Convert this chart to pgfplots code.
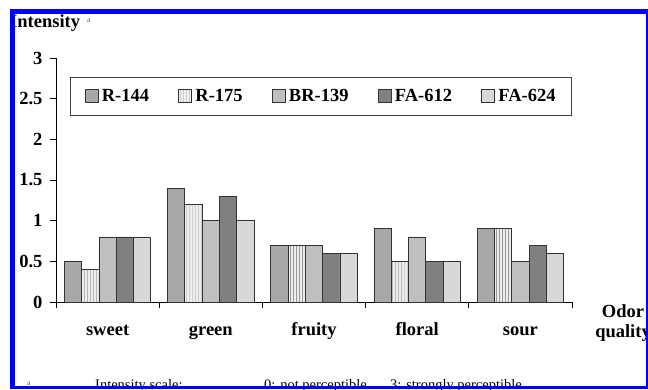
\documentclass[border=0pt]{standalone}
\usepackage{fontspec}
\setmainfont{Liberation Serif}
\usepackage{pgfplots}
\pgfplotsset{compat=1.18}
\usetikzlibrary{patterns}
\definecolor{cA}{HTML}{A8A8A8}
\definecolor{cB}{HTML}{EDEDED}
\definecolor{cC}{HTML}{C0C0C0}
\definecolor{cD}{HTML}{808080}
\definecolor{cE}{HTML}{D8D8D8}
\definecolor{frame}{HTML}{0000FF}
\pgfplotsset{sqlegend/.style={legend image code/.code={\draw[##1,draw=black!80,line width=0.8bp] (0bp,-6.5bp) rectangle (13bp,6.5bp);}}}
\newcommand{\bigbf}{\fontsize{18.5bp}{22bp}\selectfont\bfseries}
\begin{document}
\begin{tikzpicture}[x=1bp,y=1bp]
\clip (0,0) rectangle (648,389);
\fill[white] (0,0) rectangle (648,389);
\begin{axis}[
  at={(56bp,87bp)}, anchor=south west,
  scale only axis, width=516bp, height=244bp,
  xmin=-0.5, xmax=4.5, ymin=0, ymax=3,
  axis x line=bottom, axis y line=left, axis line style={-, black, line width=0.9bp},
  ybar=0pt, bar width=17.3bp,
  xtick={-0.5,0.5,1.5,2.5,3.5,4.5},
  xticklabels={sweet,green,fruity,floral,sour},
  x tick label as interval,
  ytick={0,0.5,1,1.5,2,2.5,3},
  yticklabels={0,0.5,1,1.5,2,2.5,3},
  tick align=outside, major tick length=6bp,
  tick style={black, line width=0.9bp},
  ticklabel style={font=\bigbf},
  /pgf/number format/assume math mode=true,
  xticklabel style={text height=12bp, text depth=4bp, yshift=-12bp},
  yticklabel style={xshift=-4bp},
  legend columns=5,
  legend style={at={(1,0.922)}, anchor=north east, draw=black!75, line width=0.9bp,
    font=\bigbf, inner xsep=14bp, inner ysep=10bp,
    /tikz/every even column/.append style={column sep=27bp}},
  legend cell align=left,
  every axis plot/.append style={draw=black!80, line width=0.8bp},
]
\addplot[fill=cA, sqlegend] coordinates {(0,0.5) (1,1.4) (2,0.7) (3,0.9) (4,0.9)};
\addplot[fill=cB, postaction={pattern=vertical lines, pattern color=black!40}, sqlegend] coordinates {(0,0.4) (1,1.2) (2,0.7) (3,0.5) (4,0.9)};
\addplot[fill=cC, postaction={pattern=dots, pattern color=black!25}, sqlegend] coordinates {(0,0.8) (1,1.0) (2,0.7) (3,0.8) (4,0.5)};
\addplot[fill=cD, sqlegend] coordinates {(0,0.8) (1,1.3) (2,0.6) (3,0.5) (4,0.7)};
\addplot[fill=cE, sqlegend] coordinates {(0,0.8) (1,1.0) (2,0.6) (3,0.5) (4,0.6)};
\legend{\hspace{1.5bp}R-144,\hspace{1.5bp}R-175,\hspace{1.5bp}BR-139,\hspace{1.5bp}FA-612,\hspace{1.5bp}FA-624}
\end{axis}
\node[anchor=base west, inner sep=0pt, font=\bigbf] at (10,362) {Intensity};
\node[anchor=base west, inner sep=0pt, font=\fontsize{8bp}{9bp}\selectfont, text=black!60] at (87,367) {a};
\node[anchor=base, inner sep=0pt, font=\bigbf] at (623,72) {Odor};
\node[anchor=base, inner sep=0pt, font=\bigbf] at (623,52) {quality};
\node[anchor=base west, inner sep=0pt, font=\fontsize{8bp}{9bp}\selectfont, text=black!60] at (27,4) {a};
\node[anchor=base west, inner sep=0pt, font=\fontsize{14.5bp}{17bp}\selectfont] at (95,-0.6) {Intensity scale:};
\node[anchor=base west, inner sep=0pt, font=\fontsize{14.5bp}{17bp}\selectfont] at (264,-0.6) {0: not perceptible};
\node[anchor=base west, inner sep=0pt, font=\fontsize{14.5bp}{17bp}\selectfont] at (390,-0.6) {3: strongly perceptible};
\fill[frame] (10,0) rectangle (15,380);
\fill[frame] (10,375) rectangle (648,380);
\fill[frame] (645.5,0) rectangle (647.5,380);
\fill[frame] (10,0) rectangle (648,3);
\end{tikzpicture}
\end{document}
